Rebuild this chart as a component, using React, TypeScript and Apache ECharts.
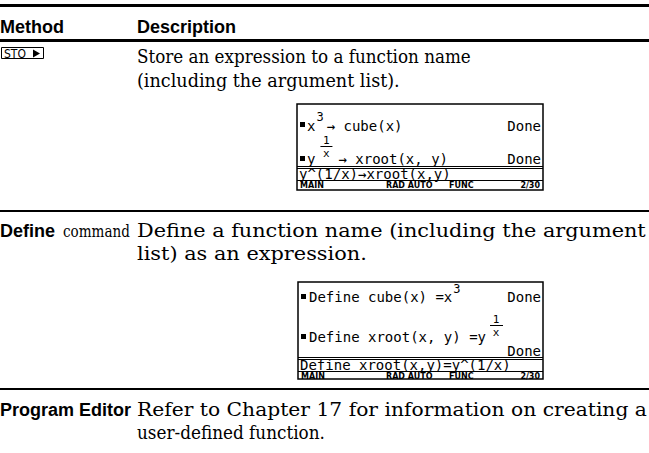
import React, { useEffect, useRef } from "react";
import * as echarts from "echarts";

const headers = ["Method", "Description"];
const keyLabel = "STO";
const row1Desc = ["Store an expression to a function name", "(including the argument list)."];
const row2Method = ["Define", "command"];
const row2Desc = ["Define a function name (including the argument", "list) as an expression."];
const row3Method = "Program Editor";
const row3Desc = ["Refer to Chapter 17 for information on creating a", "user-defined function."];
const statusBar = ["MAIN", "RAD AUTO", "FUNC", "2/30"];
const screen1 = {
  row1: ["x", "3", "→ cube(x)", "Done"],
  row2: ["y", "1", "x", "→ xroot(x, y)", "Done"],
  entry: "y^(1/x)→xroot(x,y)",
};
const screen2 = {
  row1: ["Define cube(x) =x", "3", "Done"],
  row2: ["Define xroot(x, y) =y", "1", "x", "Done"],
  entry: "Define xroot(x,y)=y^(1/x)",
};

const SANS_B = 'bold 18px "Liberation Sans", Arial, sans-serif';
const SERIF = '18px "DejaVu Serif", serif';
const SERIF_M = '17px "DejaVu Serif", serif';
const SCR = '14px "DejaVu Sans Mono", monospace';
const SCR_S = '11px "DejaVu Sans Mono", monospace';
const SCR_SUP = '12px "DejaVu Sans Mono", monospace';
const STAT = 'bold 8px "DejaVu Sans", sans-serif';

let ctx: CanvasRenderingContext2D | null = null;
function measure(s: string, font: string) {
  if (!ctx) ctx = document.createElement("canvas").getContext("2d");
  if (!ctx) return s.length * 8;
  ctx.font = font;
  return ctx.measureText(s).width;
}

function t(text: string, x: number, y: number, font: string, align: string = "left", fill = "#000") {
  return {
    type: "text",
    x,
    y,
    style: { text, font, fill, align, verticalAlign: "middle", textAlign: align, textVerticalAlign: "middle" },
  };
}
// text stretched/compressed horizontally to span x0..x1
function fit(text: string, x0: number, x1: number, y: number, font: string) {
  const w = measure(text, font);
  const s = w > 0 ? (x1 - x0) / w : 1;
  return { ...t(text, x0, y, font), scaleX: s };
}
function r(x: number, y: number, w: number, h: number, fill = "#000") {
  return { type: "rect", shape: { x, y, width: w, height: h }, style: { fill } };
}
function box(x: number, y: number, w: number, h: number) {
  return { type: "rect", shape: { x, y, width: w, height: h }, style: { fill: "#fff", stroke: "#000", lineWidth: 1.5 } };
}

export default function App() {
  const ref = useRef<HTMLDivElement>(null);
  useEffect(() => {
    if (!ref.current) return;
    const chart = echarts.init(ref.current, null, { renderer: "svg" });
    const els: any[] = [];
    const COL = 137;
    // rules
    els.push(r(0, 4, 649, 3));
    els.push(r(0, 39, 649, 3));
    els.push(r(0, 210, 649, 2));
    els.push(r(0, 388, 649, 2));
    // header
    els.push(t(headers[0], 0, 27, SANS_B));
    els.push(t(headers[1], COL, 27, SANS_B));
    // row 1
    els.push({ type: "rect", shape: { x: 1.5, y: 47.5, width: 42, height: 11 }, style: { fill: "#fff", stroke: "#000", lineWidth: 1 } });
    els.push(t(keyLabel, 4, 53.5, '12px "DejaVu Sans Condensed", "DejaVu Sans", sans-serif'));
    els.push({ type: "polygon", shape: { points: [[33, 49.5], [33, 57.5], [40, 53.5]] }, style: { fill: "#000" } });
    els.push(fit(row1Desc[0], COL, 471, 57, SERIF));
    els.push(fit(row1Desc[1], COL, 400, 80, SERIF));
    // screen 1
    const s1x = 297, s1y = 104, s1w = 246;
    els.push(box(s1x, s1y, s1w, 86));
    els.push(r(300, 122, 5, 5));
    let x = 307;
    els.push(t(screen1.row1[0], x, 126, SCR));
    x += measure(screen1.row1[0], SCR) + 1;
    els.push(t(screen1.row1[1], x, 117, SCR_SUP));
    x += measure(screen1.row1[1], SCR_SUP) + 3;
    els.push(t(screen1.row1[2], x, 126, SCR));
    els.push(t(screen1.row1[3], 541, 126, SCR, "right"));
    els.push(r(300, 156, 5, 5));
    x = 307;
    els.push(t(screen1.row2[0], x, 159, SCR));
    x += measure(screen1.row2[0], SCR) + 7;
    const fc1 = x + 4;
    els.push(t(screen1.row2[1], fc1, 140, SCR_S, "center"));
    els.push(r(fc1 - 6, 146, 12, 1));
    els.push(t(screen1.row2[2], fc1, 153, SCR_S, "center"));
    x = fc1 + 12;
    els.push(t(screen1.row2[3], x, 159, SCR));
    els.push(t(screen1.row2[4], 541, 159, SCR, "right"));
    els.push(r(s1x, 166, s1w, 1));
    els.push(r(s1x, 168, s1w, 1));
    els.push(t(screen1.entry, 299, 174, SCR));
    els.push(r(s1x, 180, s1w, 1));
    els.push(t(statusBar[0], 300, 185.5, STAT));
    els.push(t(statusBar[1], 386, 185.5, STAT));
    els.push(t(statusBar[2], 449, 185.5, STAT));
    els.push(t(statusBar[3], 540, 185.5, STAT, "right"));
    // row 2
    els.push(t(row2Method[0], 0, 231, SANS_B));
    els.push(fit(row2Method[1], 63, 130, 231, SERIF_M));
    els.push(fit(row2Desc[0], COL, 646, 231, SERIF));
    els.push(fit(row2Desc[1], COL, 367, 254, SERIF));
    // screen 2
    const s2x = 298, s2y = 282, s2w = 245;
    els.push(box(s2x, s2y, s2w, 97));
    els.push(r(301, 294, 5, 5));
    x = 309;
    els.push(t(screen2.row1[0], x, 297, SCR));
    x += measure(screen2.row1[0], SCR) + 1;
    els.push(t(screen2.row1[1], x, 289, SCR_SUP));
    els.push(t(screen2.row1[2], 541, 297, SCR, "right"));
    els.push(r(301, 334, 5, 5));
    x = 309;
    els.push(t(screen2.row2[0], x, 337, SCR));
    x += measure(screen2.row2[0], SCR) + 6;
    const fc2 = x + 4;
    els.push(t(screen2.row2[1], fc2, 319, SCR_S, "center"));
    els.push(r(fc2 - 6, 325, 13, 1));
    els.push(t(screen2.row2[2], fc2, 332, SCR_S, "center"));
    els.push(t(screen2.row2[3], 541, 351, SCR, "right"));
    els.push(r(s2x, 357, s2w, 1));
    els.push(r(s2x, 359, s2w, 1));
    els.push(t(screen2.entry, 300, 365, SCR));
    els.push(r(s2x, 371, s2w, 1));
    els.push(t(statusBar[0], 301, 376, STAT));
    els.push(t(statusBar[1], 386, 376, STAT));
    els.push(t(statusBar[2], 449, 376, STAT));
    els.push(t(statusBar[3], 540, 376, STAT, "right"));
    // row 3
    els.push(t(row3Method, 0, 410, SANS_B));
    els.push(fit(row3Desc[0], COL, 647, 410, SERIF));
    els.push(fit(row3Desc[1], COL, 325, 433, SERIF));

    chart.setOption({ animation: false, backgroundColor: "#fff", graphic: { elements: els } });
    return () => chart.dispose();
  }, []);
  return <div ref={ref} style={{ position: "fixed", left: 0, top: 0, width: 649, height: 453 }} />;
}
